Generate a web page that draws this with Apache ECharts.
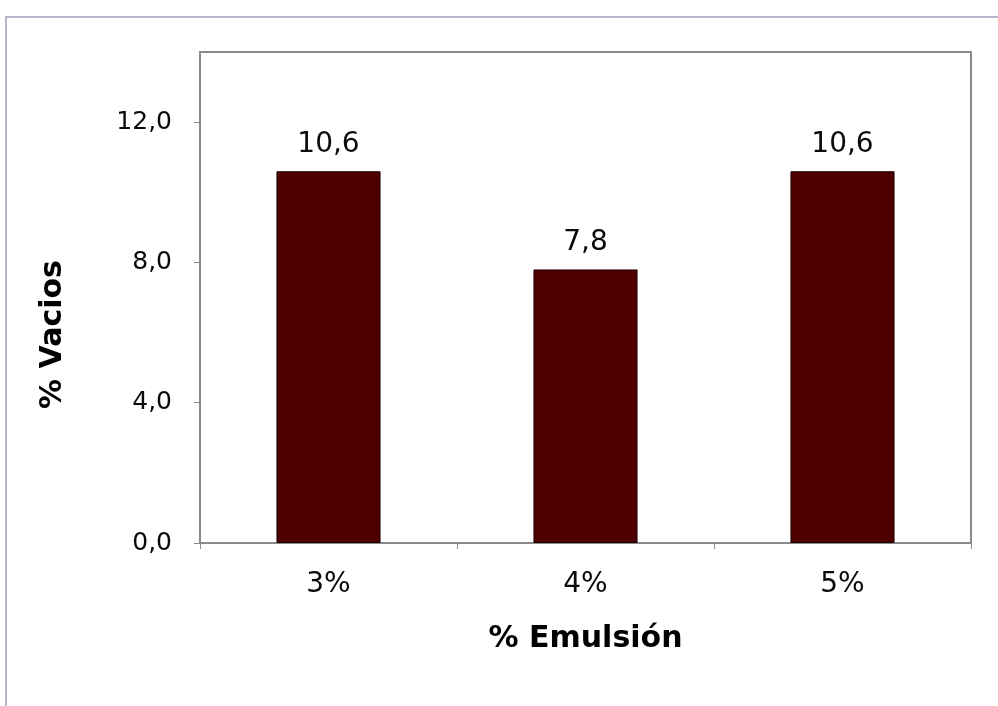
<!DOCTYPE html>
<html>
<head>
<meta charset="utf-8">
<style>
  html, body { margin: 0; padding: 0; background: #fff; }
  #chart { width: 998px; height: 706px; }
</style>
<script src="https://cdn.jsdelivr.net/npm/echarts@6/dist/echarts.min.js"></script>
</head>
<body>
<div id="chart"></div>
<script>
// Emulsion content vs. air voids
const categories = ['3%', '4%', '5%'];
const voids = [10.6, 7.8, 10.6];
const yTicks = [0, 4, 8, 12];

const fmt = v => Number(v).toFixed(1).replace('.', ',');
const FONT = '"DejaVu Sans", Verdana, sans-serif';

const chart = echarts.init(document.getElementById('chart'));
chart.setOption({
  animation: false,
  backgroundColor: '#fff',
  graphic: [{
    type: 'rect',
    shape: { x: 6, y: 17, width: 1100, height: 1000 },
    style: { fill: 'none', stroke: '#b4b6cc', lineWidth: 2 },
    silent: true
  }],
  grid: {
    left: 200, top: 52, right: 27, bottom: 163,
    show: true, borderColor: '#8a8a8a', borderWidth: 2,
    backgroundColor: 'transparent'
  },
  xAxis: {
    type: 'category',
    data: categories,
    name: '% Emulsión',
    nameLocation: 'middle',
    nameGap: 81,
    nameTextStyle: { fontFamily: FONT, fontWeight: 'bold', fontSize: 30, color: '#000' },
    axisLine: { lineStyle: { color: '#8a8a8a', width: 2 } },
    axisTick: { show: true, length: 6, lineStyle: { color: '#8a8a8a', width: 1 } },
    axisLabel: { fontFamily: FONT, fontSize: 28, color: '#0a0a0a', margin: 28 },
    splitLine: { show: false }
  },
  yAxis: {
    type: 'value',
    min: 0, max: 14, interval: yTicks[1] - yTicks[0],
    name: '% Vacios',
    nameLocation: 'middle',
    nameGap: 132,
    nameTextStyle: {
      fontFamily: FONT, fontWeight: 'bold', fontSize: 30, color: '#000',
      padding: [0, 74, 0, 0]
    },
    axisLine: { show: true, lineStyle: { color: '#8a8a8a', width: 2 } },
    axisTick: { show: true, length: 6, lineStyle: { color: '#8a8a8a', width: 1 } },
    axisLabel: {
      fontFamily: FONT, fontSize: 25, color: '#0a0a0a', margin: 28,
      showMaxLabel: false,
      formatter: v => (yTicks.indexOf(v) >= 0 ? fmt(v) : '')
    },
    splitLine: { show: false }
  },
  series: [{
    type: 'bar',
    data: voids,
    barWidth: '40.5%',
    itemStyle: { color: '#4e0000', borderColor: '#1e0000', borderWidth: 1 },
    label: {
      show: true, position: 'top', distance: 13,
      fontFamily: FONT, fontSize: 28, color: '#0a0a0a',
      formatter: p => fmt(p.value)
    }
  }]
});
</script>
</body>
</html>
